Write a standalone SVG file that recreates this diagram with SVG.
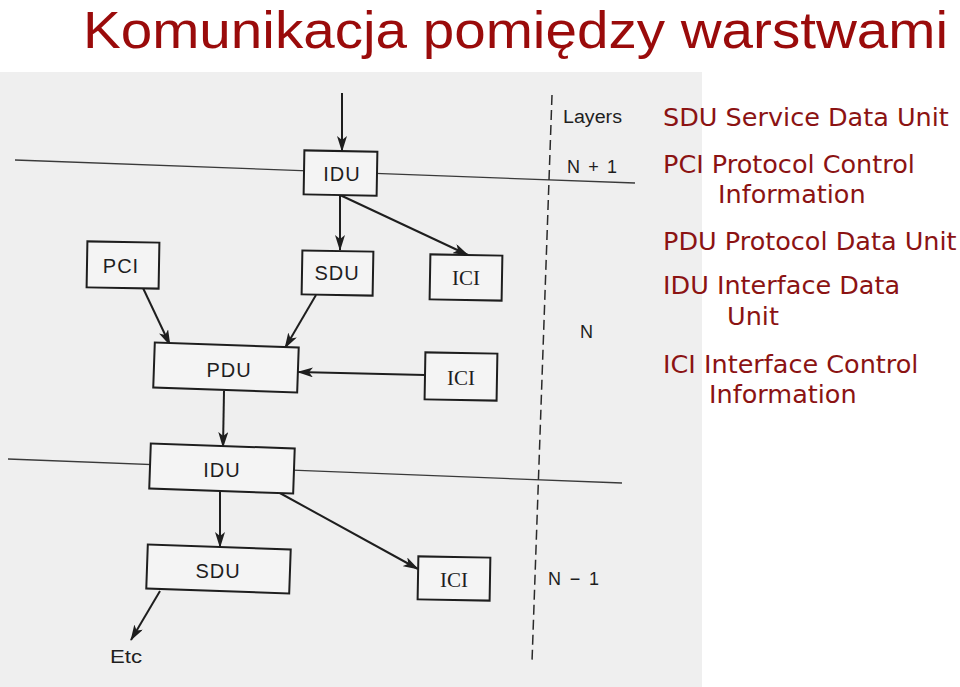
<svg xmlns="http://www.w3.org/2000/svg" width="960" height="687" viewBox="0 0 960 687">
<defs>
<style>
.box{fill:#f4f4f4;stroke:#1e1e1e;stroke-width:2}
.lbl{font-family:"Liberation Sans",Arial,sans-serif;font-size:20px;fill:#1e1e1e;text-anchor:middle;letter-spacing:1px}
.ser{font-family:"Liberation Serif","Times New Roman",serif;font-size:21px;fill:#1e1e1e;text-anchor:middle}
.side{font-family:"Liberation Sans",Arial,sans-serif;font-size:18px;fill:#1e1e1e}
.conn{stroke:#1e1e1e;stroke-width:2;fill:none;marker-end:url(#ah)}
.layer{stroke:#3a3a3a;stroke-width:1.3;fill:none}
.legend{font-family:"DejaVu Sans",Verdana,sans-serif;font-size:25.5px;fill:#8b1313}
</style>
<marker id="ah" markerUnits="userSpaceOnUse" markerWidth="16" markerHeight="10" viewBox="0 0 16 10" refX="15" refY="5" orient="auto">
<path d="M0,0 L16,5 L0,10 L4,5 Z" fill="#1e1e1e"/>
</marker>
</defs>
<rect x="0" y="0" width="960" height="687" fill="#ffffff"/>
<rect x="0" y="72" width="702" height="615" fill="#efefef"/>
<text x="83" y="48" font-family="'Liberation Sans',Arial,sans-serif" font-size="52" fill="#9a0b0b" textLength="865" lengthAdjust="spacingAndGlyphs">Komunikacja pomiędzy warstwami</text>

<g id="layer-lines">
<line class="layer" x1="15" y1="160" x2="635" y2="183"/>
<line class="layer" x1="8" y1="459" x2="622" y2="483"/>
<line x1="552" y1="95" x2="532" y2="662" stroke="#2a2a2a" stroke-width="1.5" stroke-dasharray="10,5"/>
</g>

<g id="connectors">
<line class="conn" x1="342" y1="93" x2="342" y2="151"/>
<line class="conn" x1="340" y1="196" x2="340" y2="250"/>
<line class="conn" x1="340" y1="195" x2="468" y2="255"/>
<line class="conn" x1="143" y1="288" x2="170" y2="345"/>
<line class="conn" x1="316" y1="295" x2="285" y2="348"/>
<line class="conn" x1="425" y1="375" x2="298" y2="372"/>
<line class="conn" x1="224" y1="391" x2="223" y2="447"/>
<line class="conn" x1="220" y1="492" x2="220" y2="547"/>
<line class="conn" x1="278" y1="492" x2="418" y2="569"/>
<line class="conn" x1="160" y1="591" x2="131" y2="640"/>
</g>

<g id="idu-top">
<rect class="box" x="304" y="151" width="73" height="44" transform="rotate(1 340 173)"/>
<text class="lbl" x="342" y="181">IDU</text>
</g>
<g id="sdu-top">
<rect class="box" x="302" y="251" width="71" height="44" transform="rotate(1 337 273)"/>
<text class="lbl" x="337" y="280">SDU</text>
</g>
<g id="ici-top">
<rect class="box" x="430" y="255" width="72" height="45" transform="rotate(1 466 277)"/>
<text class="ser" x="466" y="285">ICI</text>
</g>
<g id="pci">
<rect class="box" x="87" y="242" width="72" height="46" transform="rotate(1 123 265)"/>
<text class="lbl" x="121" y="273">PCI</text>
</g>
<g id="pdu">
<rect class="box" x="154" y="345" width="144" height="45" transform="rotate(2 226 367)"/>
<text class="lbl" x="229" y="377">PDU</text>
</g>
<g id="ici-mid">
<rect class="box" x="425" y="353" width="72" height="47" transform="rotate(1 461 376)"/>
<text class="ser" x="461" y="385">ICI</text>
</g>
<g id="idu-bottom">
<rect class="box" x="150" y="446" width="144" height="45" transform="rotate(2 222 468)"/>
<text class="lbl" x="222" y="477">IDU</text>
</g>
<g id="sdu-bottom">
<rect class="box" x="147" y="547" width="143" height="44" transform="rotate(2 218 569)"/>
<text class="lbl" x="218" y="578">SDU</text>
</g>
<g id="ici-bottom">
<rect class="box" x="418" y="557" width="72" height="43" transform="rotate(1 454 578)"/>
<text class="ser" x="454" y="587">ICI</text>
</g>
<g id="etc">
<text class="side" x="110" y="663" font-size="19" textLength="32" lengthAdjust="spacingAndGlyphs">Etc</text>
</g>

<g id="layer-labels">
<text class="side" x="563" y="123" font-size="20" textLength="59" lengthAdjust="spacingAndGlyphs">Layers</text>
<text class="side" x="567" y="173" textLength="50">N + 1</text>
<text class="side" x="580" y="338" font-size="19">N</text>
<text class="side" x="548" y="585" font-size="19" textLength="51">N − 1</text>
</g>

<g id="legend">
<text class="legend" x="663" y="126">SDU Service Data Unit</text>
<text class="legend" x="663" y="173">PCI Protocol Control</text>
<text class="legend" x="718" y="203">Information</text>
<text class="legend" x="663" y="250">PDU Protocol Data Unit</text>
<text class="legend" x="663" y="294">IDU Interface Data</text>
<text class="legend" x="727" y="325">Unit</text>
<text class="legend" x="663" y="373">ICI Interface Control</text>
<text class="legend" x="709" y="403">Information</text>
</g>
</svg>
